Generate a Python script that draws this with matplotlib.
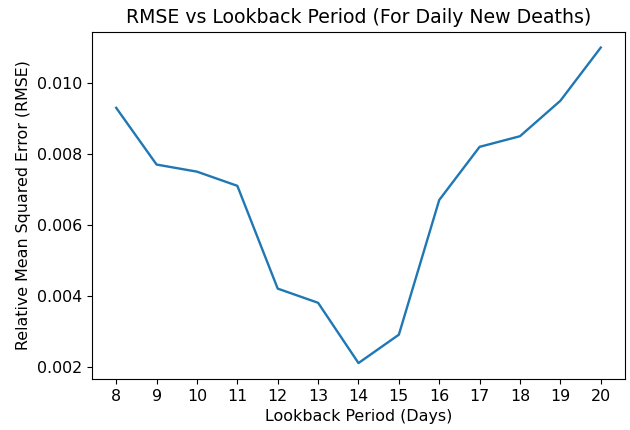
import matplotlib
matplotlib.use('Agg')
import matplotlib.pyplot as plt

# lookback period (days) and the RMSE for daily new deaths
lookback = [8, 9, 10, 11, 12, 13, 14, 15, 16, 17, 18, 19, 20]
rmse = [0.0093, 0.0077, 0.0075, 0.0071, 0.0042, 0.0038, 0.0021,
        0.0029, 0.0067, 0.0082, 0.0085, 0.0095, 0.0110]

plt.rcParams['font.size'] = 11.4
fig, ax = plt.subplots(figsize=(6.3, 4.3), dpi=100)
ax.plot(lookback, rmse, color='#1f77b4', linewidth=1.7)
ax.set_xticks(lookback)
ax.set_title('RMSE vs Lookback Period (For Daily New Deaths)', fontsize=13.6)
ax.set_xlabel('Lookback Period (Days)')
ax.set_ylabel('Relative Mean Squared Error (RMSE)')
plt.subplots_adjust(left=0.146, right=0.992, top=0.926, bottom=0.119)
plt.savefig('out.png')
